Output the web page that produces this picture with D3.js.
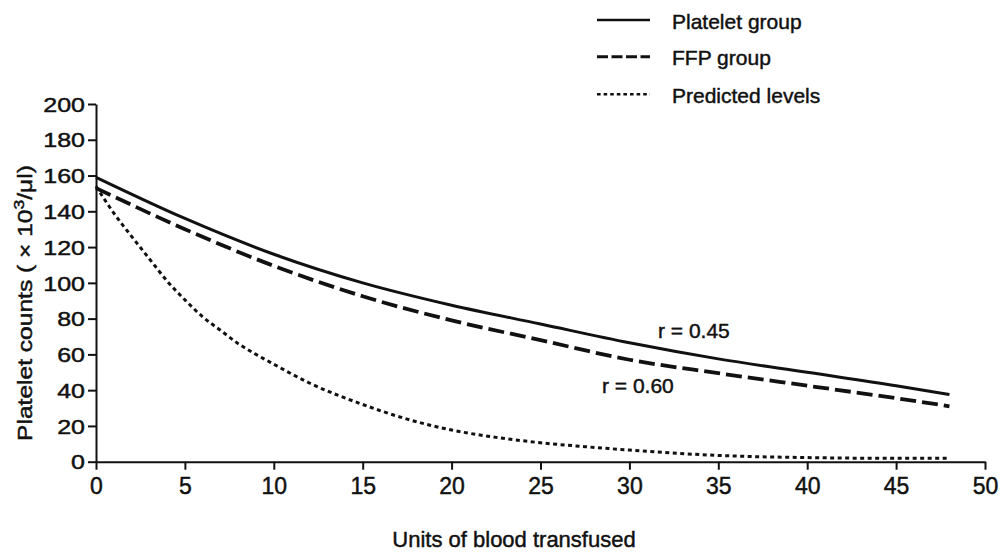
<!DOCTYPE html>
<html>
<head>
<meta charset="utf-8">
<script src="https://cdn.jsdelivr.net/npm/d3@7"></script>
<style>
  body { margin: 0; background: #fff; }
  svg { font-family: "Liberation Sans", Arial, Helvetica, sans-serif; }
  svg text { stroke: #111; stroke-width: 0.45px; }
</style>
</head>
<body>
<svg id="chart" width="1002" height="552"></svg>
<script>
// values
const groupUnits = [0, 5, 10, 15, 20, 25, 30, 35, 40, 45, 48];
const plateletGroup = [159, 136, 116, 100, 87.5, 77, 66.5, 57.5, 50, 42.5, 37.5];
const ffpGroup = [153, 130, 109.5, 92.5, 79, 68, 57, 49.5, 42.5, 35.5, 31];

const predictedUnits = [0, 1, 2, 3, 4, 5, 6, 7, 8, 9, 10, 12, 15, 17.5, 20, 22.5, 25, 27.5, 30, 35, 40, 45, 48];
const predicted = [154, 139, 126, 113.5, 101, 90.5, 81, 73.5, 66, 60, 54.5, 44, 32, 23.8, 17.7, 13.6, 10.6, 8.4, 6.5, 3.5, 2.3, 1.9, 1.9];

const xTicks = [0, 5, 10, 15, 20, 25, 30, 35, 40, 45, 50];
const yTicks = [0, 20, 40, 60, 80, 100, 120, 140, 160, 180, 200];

const legendNames = ["Platelet group", "FFP group", "Predicted levels"];
const rLabels = ["r = 0.45", "r = 0.60"];

const svg = d3.select("#chart");

const x = d3.scaleLinear().domain([0, 50]).range([96, 985]);
const y = d3.scaleLinear().domain([0, 200]).range([461.7, 104]);

// y axis
const yAxis = svg.append("g").attr("transform", `translate(${x(0)},0)`)
  .call(d3.axisLeft(y).tickValues(yTicks).tickSize(8).tickSizeOuter(0));
yAxis.select(".domain").attr("stroke", "#111").attr("stroke-width", 2);
yAxis.selectAll(".tick line").attr("stroke", "#111").attr("stroke-width", 2);
yAxis.selectAll(".tick text")
  .attr("x", -8.8).attr("dy", "0.36em")
  .attr("transform", "scale(1.25,1)")
  .attr("font-size", 20).attr("fill", "#111");

// x axis
const xAxis = svg.append("g").attr("transform", `translate(0,${y(0)})`)
  .call(d3.axisBottom(x).tickValues(xTicks).tickSize(8).tickSizeOuter(0));
xAxis.select(".domain").attr("stroke", "#111").attr("stroke-width", 2);
xAxis.selectAll(".tick line").attr("stroke", "#111").attr("stroke-width", 2);
xAxis.selectAll(".tick text")
  .attr("y", 32.6).attr("dy", 0)
  .attr("font-size", 23).attr("fill", "#111");

// axis titles
svg.append("text")
  .attr("x", 514).attr("y", 546.5)
  .attr("text-anchor", "middle")
  .attr("font-size", 22).attr("fill", "#111")
  .text("Units of blood transfused");

const yTitle = svg.append("text")
  .attr("transform", "translate(32,303) rotate(-90) scale(1.17,1)")
  .attr("text-anchor", "middle")
  .attr("font-size", 21).attr("fill", "#111");
yTitle.append("tspan").text("Platelet counts ( \u00d7 10");
yTitle.append("tspan").attr("dy", -8).attr("font-size", 15).text("3");
yTitle.append("tspan").attr("dy", 8).text("/\u03bcl)");

// lines
const line = d3.line().x(d => x(d[0])).y(d => y(d[1])).curve(d3.curveMonotoneX);

const styles = [
  { width: 3, dash: null },
  { width: 3.8, dash: "16,6" },
  { width: 3, dash: "4,3.5" }
];

const series = [
  d3.zip(groupUnits, plateletGroup),
  d3.zip(groupUnits, ffpGroup),
  d3.zip(predictedUnits, predicted)
];

svg.selectAll(".series").data(series).join("path")
  .attr("class", "series")
  .attr("d", line)
  .attr("fill", "none")
  .attr("stroke", "#111")
  .attr("stroke-width", (d, i) => styles[i].width)
  .attr("stroke-dasharray", (d, i) => styles[i].dash);

// r labels
svg.append("text").attr("x", 658).attr("y", 338)
  .attr("font-size", 21).attr("fill", "#111").text(rLabels[0]);
svg.append("text").attr("x", 602).attr("y", 392.5)
  .attr("font-size", 21).attr("fill", "#111").text(rLabels[1]);

// legend
const legendY = [20, 56.7, 94.3];
const legendDash = [null, "11,3.5", "3.6,3"];
const legendWidth = [2.5, 3, 2.5];
const lg = svg.selectAll(".legend").data(legendNames).join("g")
  .attr("class", "legend")
  .attr("transform", (d, i) => `translate(0,${legendY[i]})`);
lg.append("line")
  .attr("x1", 597).attr("x2", 650)
  .attr("stroke", "#111")
  .attr("stroke-width", (d, i) => legendWidth[i])
  .attr("stroke-dasharray", (d, i) => legendDash[i]);
lg.append("text")
  .attr("x", 672).attr("y", 8.5)
  .attr("font-size", 21).attr("fill", "#111")
  .text(d => d);
</script>
</body>
</html>
